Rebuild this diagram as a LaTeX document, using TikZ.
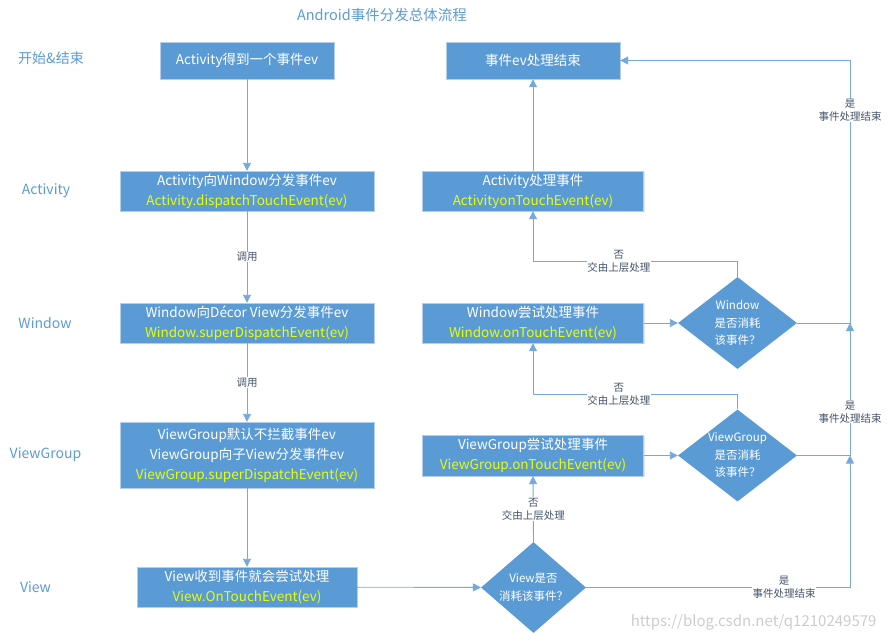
\documentclass[tikz,border=0pt]{standalone}
\usepackage{fontspec}
\setmainfont{Noto Sans CJK SC}
\usetikzlibrary{arrows.meta, shapes.geometric, shadows}
\definecolor{FlowBlue}{RGB}{91,155,213}
\definecolor{EdgeBlue}{RGB}{180,205,235}
\definecolor{CodeYellow}{RGB}{232,255,0}
\definecolor{NoteGray}{RGB}{68,84,106}
\newcommand{\code}[1]{\textcolor{CodeYellow}{#1}}

\begin{document}
\begin{tikzpicture}[x=1pt, y=-1pt,
		box/.style={draw=EdgeBlue, fill=FlowBlue, text=white, align=center, inner sep=1pt, font=\fontsize{13.5}{20}\selectfont, drop shadow={opacity=0.2, shadow xshift=1pt, shadow yshift=-1pt}},
		ask/.style={diamond, fill=FlowBlue, text=white, align=center, inner sep=0pt, aspect=1.3, minimum width=119pt, minimum height=92pt, font=\fontsize{11.5}{17.5}\selectfont},
		lane/.style={text=FlowBlue, font=\fontsize{14}{16}\selectfont},
		note/.style={fill=white, text=NoteGray, align=center, inner sep=0.5pt, font=\fontsize{10.5}{13}\selectfont},
		arr/.style={-{Triangle[length=8pt, width=8pt]}, FlowBlue!85, line width=0.9pt}]
	\useasboundingbox (0,0) rectangle (888,642);
	% title and lanes
	\node[lane, font=\fontsize{14.5}{16}\selectfont] (title) at (382,15) {Android事件分发总体流程};
	\foreach \name/\x/\y/\lab in {ls/51/58/开始\&结束, la/46/191/Activity, lw/45/323/Window, lg/45.5/455/ViewGroup, lv/35.5/587/View}{
		\node[lane] (\name) at (\x,\y) {\lab};
	}
	% dispatch column
	\node[box, minimum width=174pt, minimum height=37pt] (start) at (247,60.5) {Activity得到一个事件ev};
	\node[box, minimum width=254pt, minimum height=40pt] (adis) at (247,191) {Activity向Window分发事件ev\\\code{Activity.dispatchTouchEvent(ev)}};
	\node[box, minimum width=254pt, minimum height=40pt] (wdis) at (247,323) {Window向Décor View分发事件ev\\\code{Window.superDispatchEvent(ev)}};
	\node[box, minimum width=254pt, minimum height=66pt] (gdis) at (247,455) {ViewGroup默认不拦截事件ev\\ViewGroup向子View分发事件ev\\\code{ViewGroup.superDispatchEvent(ev)}};
	\node[box, minimum width=220pt, minimum height=40pt] (vtry) at (247,587) {View收到事件就会尝试处理\\\code{View.OnTouchEvent(ev)}};
	% handling column
	\node[box, minimum width=174pt, minimum height=37pt] (done) at (533,60.5) {事件ev处理结束};
	\node[box, minimum width=221pt, minimum height=40pt] (atry) at (533,191) {Activity处理事件\\\code{ActivityonTouchEvent(ev)}};
	\node[box, minimum width=221pt, minimum height=40pt] (wtry) at (533,323) {Window尝试处理事件\\\code{Window.onTouchEvent(ev)}};
	\node[box, minimum width=221pt, minimum height=41pt] (gtry) at (533,455.5) {ViewGroup尝试处理事件\\\code{ViewGroup.onTouchEvent(ev)}};
	\node[ask] (wq) at (737.5,323) {Window\\是否消耗\\该事件？};
	\node[ask] (gq) at (737.5,455.5) {ViewGroup\\是否消耗\\该事件？};
	\node[ask, minimum width=103pt, minimum height=91pt] (vq) at (533.5,587.5) {View是否\\消耗该事件？};
	\coordinate (rt) at (850,60.5);
	\coordinate (rw) at (850,323);
	\coordinate (rg) at (850,455.5);
	\coordinate (rv) at (850,587.5);
	% connectors
	\draw[arr] (start) -- (adis);
	\draw[arr] (adis) -- node[note]{调用} (wdis);
	\draw[arr] (wdis) -- node[note]{调用} (gdis);
	\draw[arr] (gdis) -- (vtry);
	\draw[arr] (atry) -- (done);
	\draw[arr] (vtry) -- (vq);
	\draw[arr] (gtry) -- (gq);
	\draw[arr] (wtry) -- (wq);
	\draw[arr] (vq.north) -- node[note, pos=0.5]{否\\交由上层处理} (gtry.south);
	\draw[arr] (gq.north) -- ++(0,-15) -| node[note, pos=0.29]{否\\交由上层处理} (wtry.south);
	\draw[arr] (wq.north) -- ++(0,-15) -| node[note, pos=0.29]{否\\交由上层处理} (atry.south);
	\draw[arr] (vq.east) -- node[note, pos=0.75]{是\\事件处理结束} (rv) -- (rg);
	\draw[arr] (gq.east) -- (rg) -- node[note, pos=0.33]{是\\事件处理结束} (rw);
	\draw[arr] (wq.east) -- (rw) -- node[note, pos=0.81]{是\\事件处理结束} (rt) -- (done.east);
	\node[text=gray!40, font=\fontsize{15}{17}\selectfont, anchor=east] (mark) at (880,622) {https://blog.csdn.net/q1210249579};
\end{tikzpicture}
\end{document}
